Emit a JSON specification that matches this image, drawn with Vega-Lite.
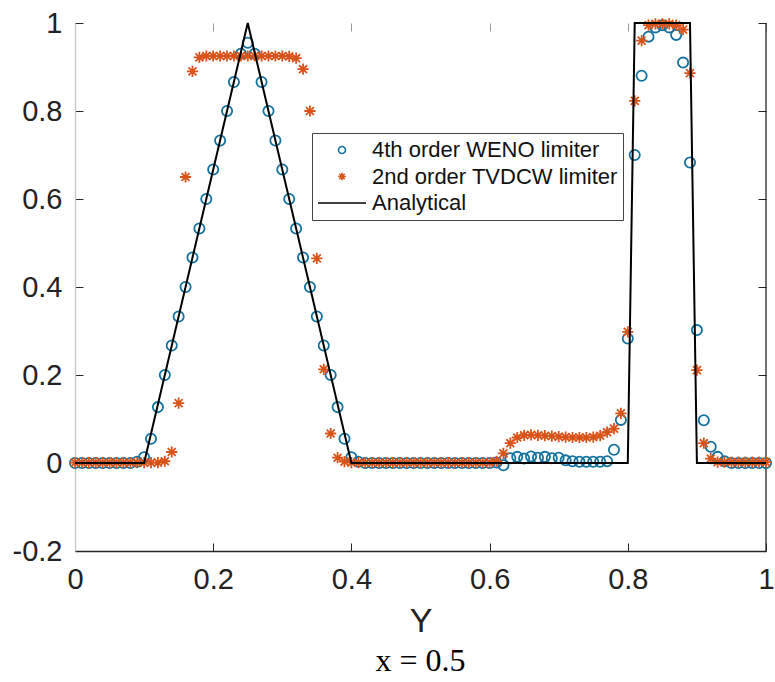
{
  "$schema": "https://vega.github.io/schema/vega-lite/v6.json",
  "width": 691,
  "height": 528,
  "autosize": "none",
  "padding": {"left": 75, "top": 23, "right": 9, "bottom": 131},
  "background": "white",
  "title": {"text": "x = 0.5", "orient": "bottom", "font": "Liberation Serif", "fontSize": 32, "fontWeight": "normal", "color": "#000", "offset": 8, "anchor": "middle"},
  "config": {
    "view": {"stroke": null},
    "axis": {"labelFont": "Liberation Sans", "labelFontSize": 29, "labelColor": "#222", "titleFont": "Liberation Sans", "titleFontWeight": "normal", "titleColor": "#222", "grid": false, "tickColor": "#262626", "tickWidth": 1, "domainColor": "#262626", "domainWidth": 1.3},
    "legend": {"labelFont": "Liberation Sans", "labelFontSize": 22, "labelColor": "#111", "strokeColor": "#444", "fillColor": "white", "padding": 5, "symbolSize": 2304, "clipHeight": 24, "rowPadding": 2.5, "labelOffset": 5, "symbolStrokeWidth": 1.6, "labelLimit": 400}
  },
  "resolve": {"axis": {"x": "independent", "y": "independent"}},
  "datasets": {
    "frame": [{"x": 1}],
    "analytic": [
      {"x": 0, "y": 0, "s": "Analytical"},
      {"x": 0.1, "y": 0, "s": "Analytical"},
      {"x": 0.25, "y": 1, "s": "Analytical"},
      {"x": 0.4, "y": 0, "s": "Analytical"},
      {"x": 0.8, "y": 0, "s": "Analytical"},
      {"x": 0.81, "y": 1, "s": "Analytical"},
      {"x": 0.89, "y": 1, "s": "Analytical"},
      {"x": 0.9, "y": 0, "s": "Analytical"},
      {"x": 1, "y": 0, "s": "Analytical"}
    ],
    "pts": [
      {"x": 0.00, "y": 0, "s": "4th order WENO limiter"},
      {"x": 0.01, "y": 0, "s": "4th order WENO limiter"},
      {"x": 0.02, "y": 0, "s": "4th order WENO limiter"},
      {"x": 0.03, "y": 0, "s": "4th order WENO limiter"},
      {"x": 0.04, "y": 0, "s": "4th order WENO limiter"},
      {"x": 0.05, "y": 0, "s": "4th order WENO limiter"},
      {"x": 0.06, "y": 0, "s": "4th order WENO limiter"},
      {"x": 0.07, "y": 0, "s": "4th order WENO limiter"},
      {"x": 0.08, "y": 0, "s": "4th order WENO limiter"},
      {"x": 0.09, "y": 0.003, "s": "4th order WENO limiter"},
      {"x": 0.10, "y": 0.013, "s": "4th order WENO limiter"},
      {"x": 0.11, "y": 0.055, "s": "4th order WENO limiter"},
      {"x": 0.12, "y": 0.127, "s": "4th order WENO limiter"},
      {"x": 0.13, "y": 0.2, "s": "4th order WENO limiter"},
      {"x": 0.14, "y": 0.267, "s": "4th order WENO limiter"},
      {"x": 0.15, "y": 0.333, "s": "4th order WENO limiter"},
      {"x": 0.16, "y": 0.4, "s": "4th order WENO limiter"},
      {"x": 0.17, "y": 0.467, "s": "4th order WENO limiter"},
      {"x": 0.18, "y": 0.533, "s": "4th order WENO limiter"},
      {"x": 0.19, "y": 0.6, "s": "4th order WENO limiter"},
      {"x": 0.20, "y": 0.667, "s": "4th order WENO limiter"},
      {"x": 0.21, "y": 0.733, "s": "4th order WENO limiter"},
      {"x": 0.22, "y": 0.8, "s": "4th order WENO limiter"},
      {"x": 0.23, "y": 0.866, "s": "4th order WENO limiter"},
      {"x": 0.24, "y": 0.93, "s": "4th order WENO limiter"},
      {"x": 0.25, "y": 0.955, "s": "4th order WENO limiter"},
      {"x": 0.26, "y": 0.93, "s": "4th order WENO limiter"},
      {"x": 0.27, "y": 0.866, "s": "4th order WENO limiter"},
      {"x": 0.28, "y": 0.8, "s": "4th order WENO limiter"},
      {"x": 0.29, "y": 0.733, "s": "4th order WENO limiter"},
      {"x": 0.30, "y": 0.667, "s": "4th order WENO limiter"},
      {"x": 0.31, "y": 0.6, "s": "4th order WENO limiter"},
      {"x": 0.32, "y": 0.533, "s": "4th order WENO limiter"},
      {"x": 0.33, "y": 0.467, "s": "4th order WENO limiter"},
      {"x": 0.34, "y": 0.4, "s": "4th order WENO limiter"},
      {"x": 0.35, "y": 0.333, "s": "4th order WENO limiter"},
      {"x": 0.36, "y": 0.267, "s": "4th order WENO limiter"},
      {"x": 0.37, "y": 0.2, "s": "4th order WENO limiter"},
      {"x": 0.38, "y": 0.127, "s": "4th order WENO limiter"},
      {"x": 0.39, "y": 0.055, "s": "4th order WENO limiter"},
      {"x": 0.40, "y": 0.013, "s": "4th order WENO limiter"},
      {"x": 0.41, "y": 0.003, "s": "4th order WENO limiter"},
      {"x": 0.42, "y": 0, "s": "4th order WENO limiter"},
      {"x": 0.43, "y": 0, "s": "4th order WENO limiter"},
      {"x": 0.44, "y": 0, "s": "4th order WENO limiter"},
      {"x": 0.45, "y": 0, "s": "4th order WENO limiter"},
      {"x": 0.46, "y": 0, "s": "4th order WENO limiter"},
      {"x": 0.47, "y": 0, "s": "4th order WENO limiter"},
      {"x": 0.48, "y": 0, "s": "4th order WENO limiter"},
      {"x": 0.49, "y": 0, "s": "4th order WENO limiter"},
      {"x": 0.50, "y": 0, "s": "4th order WENO limiter"},
      {"x": 0.51, "y": 0, "s": "4th order WENO limiter"},
      {"x": 0.52, "y": 0, "s": "4th order WENO limiter"},
      {"x": 0.53, "y": 0, "s": "4th order WENO limiter"},
      {"x": 0.54, "y": 0, "s": "4th order WENO limiter"},
      {"x": 0.55, "y": 0, "s": "4th order WENO limiter"},
      {"x": 0.56, "y": 0, "s": "4th order WENO limiter"},
      {"x": 0.57, "y": 0, "s": "4th order WENO limiter"},
      {"x": 0.58, "y": 0, "s": "4th order WENO limiter"},
      {"x": 0.59, "y": 0, "s": "4th order WENO limiter"},
      {"x": 0.60, "y": 0, "s": "4th order WENO limiter"},
      {"x": 0.61, "y": 0.001, "s": "4th order WENO limiter"},
      {"x": 0.62, "y": -0.005, "s": "4th order WENO limiter"},
      {"x": 0.63, "y": 0.011, "s": "4th order WENO limiter"},
      {"x": 0.64, "y": 0.014, "s": "4th order WENO limiter"},
      {"x": 0.65, "y": 0.01, "s": "4th order WENO limiter"},
      {"x": 0.66, "y": 0.015, "s": "4th order WENO limiter"},
      {"x": 0.67, "y": 0.012, "s": "4th order WENO limiter"},
      {"x": 0.68, "y": 0.014, "s": "4th order WENO limiter"},
      {"x": 0.69, "y": 0.011, "s": "4th order WENO limiter"},
      {"x": 0.70, "y": 0.012, "s": "4th order WENO limiter"},
      {"x": 0.71, "y": 0.006, "s": "4th order WENO limiter"},
      {"x": 0.72, "y": 0.004, "s": "4th order WENO limiter"},
      {"x": 0.73, "y": 0.003, "s": "4th order WENO limiter"},
      {"x": 0.74, "y": 0.003, "s": "4th order WENO limiter"},
      {"x": 0.75, "y": 0.003, "s": "4th order WENO limiter"},
      {"x": 0.76, "y": 0.003, "s": "4th order WENO limiter"},
      {"x": 0.77, "y": 0.004, "s": "4th order WENO limiter"},
      {"x": 0.78, "y": 0.03, "s": "4th order WENO limiter"},
      {"x": 0.79, "y": 0.098, "s": "4th order WENO limiter"},
      {"x": 0.80, "y": 0.283, "s": "4th order WENO limiter"},
      {"x": 0.81, "y": 0.7, "s": "4th order WENO limiter"},
      {"x": 0.82, "y": 0.88, "s": "4th order WENO limiter"},
      {"x": 0.83, "y": 0.969, "s": "4th order WENO limiter"},
      {"x": 0.84, "y": 0.99, "s": "4th order WENO limiter"},
      {"x": 0.85, "y": 0.995, "s": "4th order WENO limiter"},
      {"x": 0.86, "y": 0.99, "s": "4th order WENO limiter"},
      {"x": 0.87, "y": 0.973, "s": "4th order WENO limiter"},
      {"x": 0.88, "y": 0.91, "s": "4th order WENO limiter"},
      {"x": 0.89, "y": 0.683, "s": "4th order WENO limiter"},
      {"x": 0.90, "y": 0.302, "s": "4th order WENO limiter"},
      {"x": 0.91, "y": 0.097, "s": "4th order WENO limiter"},
      {"x": 0.92, "y": 0.037, "s": "4th order WENO limiter"},
      {"x": 0.93, "y": 0.014, "s": "4th order WENO limiter"},
      {"x": 0.94, "y": 0.004, "s": "4th order WENO limiter"},
      {"x": 0.95, "y": 0, "s": "4th order WENO limiter"},
      {"x": 0.96, "y": 0, "s": "4th order WENO limiter"},
      {"x": 0.97, "y": 0, "s": "4th order WENO limiter"},
      {"x": 0.98, "y": 0, "s": "4th order WENO limiter"},
      {"x": 0.99, "y": 0, "s": "4th order WENO limiter"},
      {"x": 1.00, "y": 0, "s": "4th order WENO limiter"},
      {"x": 0.00, "y": 0.001, "s": "2nd order TVDCW limiter"},
      {"x": 0.01, "y": 0.001, "s": "2nd order TVDCW limiter"},
      {"x": 0.02, "y": 0.001, "s": "2nd order TVDCW limiter"},
      {"x": 0.03, "y": 0.001, "s": "2nd order TVDCW limiter"},
      {"x": 0.04, "y": 0.001, "s": "2nd order TVDCW limiter"},
      {"x": 0.05, "y": 0.001, "s": "2nd order TVDCW limiter"},
      {"x": 0.06, "y": 0.001, "s": "2nd order TVDCW limiter"},
      {"x": 0.07, "y": 0.001, "s": "2nd order TVDCW limiter"},
      {"x": 0.08, "y": 0.001, "s": "2nd order TVDCW limiter"},
      {"x": 0.09, "y": 0.001, "s": "2nd order TVDCW limiter"},
      {"x": 0.10, "y": 0.001, "s": "2nd order TVDCW limiter"},
      {"x": 0.11, "y": 0.001, "s": "2nd order TVDCW limiter"},
      {"x": 0.12, "y": 0.001, "s": "2nd order TVDCW limiter"},
      {"x": 0.13, "y": 0.004, "s": "2nd order TVDCW limiter"},
      {"x": 0.14, "y": 0.025, "s": "2nd order TVDCW limiter"},
      {"x": 0.15, "y": 0.136, "s": "2nd order TVDCW limiter"},
      {"x": 0.16, "y": 0.65, "s": "2nd order TVDCW limiter"},
      {"x": 0.17, "y": 0.89, "s": "2nd order TVDCW limiter"},
      {"x": 0.18, "y": 0.922, "s": "2nd order TVDCW limiter"},
      {"x": 0.19, "y": 0.925, "s": "2nd order TVDCW limiter"},
      {"x": 0.20, "y": 0.925, "s": "2nd order TVDCW limiter"},
      {"x": 0.21, "y": 0.925, "s": "2nd order TVDCW limiter"},
      {"x": 0.22, "y": 0.925, "s": "2nd order TVDCW limiter"},
      {"x": 0.23, "y": 0.925, "s": "2nd order TVDCW limiter"},
      {"x": 0.24, "y": 0.925, "s": "2nd order TVDCW limiter"},
      {"x": 0.25, "y": 0.925, "s": "2nd order TVDCW limiter"},
      {"x": 0.26, "y": 0.925, "s": "2nd order TVDCW limiter"},
      {"x": 0.27, "y": 0.925, "s": "2nd order TVDCW limiter"},
      {"x": 0.28, "y": 0.925, "s": "2nd order TVDCW limiter"},
      {"x": 0.29, "y": 0.925, "s": "2nd order TVDCW limiter"},
      {"x": 0.30, "y": 0.925, "s": "2nd order TVDCW limiter"},
      {"x": 0.31, "y": 0.924, "s": "2nd order TVDCW limiter"},
      {"x": 0.32, "y": 0.92, "s": "2nd order TVDCW limiter"},
      {"x": 0.33, "y": 0.895, "s": "2nd order TVDCW limiter"},
      {"x": 0.34, "y": 0.8, "s": "2nd order TVDCW limiter"},
      {"x": 0.35, "y": 0.465, "s": "2nd order TVDCW limiter"},
      {"x": 0.36, "y": 0.213, "s": "2nd order TVDCW limiter"},
      {"x": 0.37, "y": 0.067, "s": "2nd order TVDCW limiter"},
      {"x": 0.38, "y": 0.012, "s": "2nd order TVDCW limiter"},
      {"x": 0.39, "y": 0.003, "s": "2nd order TVDCW limiter"},
      {"x": 0.40, "y": 0.001, "s": "2nd order TVDCW limiter"},
      {"x": 0.41, "y": 0.001, "s": "2nd order TVDCW limiter"},
      {"x": 0.42, "y": 0.001, "s": "2nd order TVDCW limiter"},
      {"x": 0.43, "y": 0.001, "s": "2nd order TVDCW limiter"},
      {"x": 0.44, "y": 0.001, "s": "2nd order TVDCW limiter"},
      {"x": 0.45, "y": 0.001, "s": "2nd order TVDCW limiter"},
      {"x": 0.46, "y": 0.001, "s": "2nd order TVDCW limiter"},
      {"x": 0.47, "y": 0.001, "s": "2nd order TVDCW limiter"},
      {"x": 0.48, "y": 0.001, "s": "2nd order TVDCW limiter"},
      {"x": 0.49, "y": 0.001, "s": "2nd order TVDCW limiter"},
      {"x": 0.50, "y": 0.001, "s": "2nd order TVDCW limiter"},
      {"x": 0.51, "y": 0.001, "s": "2nd order TVDCW limiter"},
      {"x": 0.52, "y": 0.001, "s": "2nd order TVDCW limiter"},
      {"x": 0.53, "y": 0.001, "s": "2nd order TVDCW limiter"},
      {"x": 0.54, "y": 0.001, "s": "2nd order TVDCW limiter"},
      {"x": 0.55, "y": 0.001, "s": "2nd order TVDCW limiter"},
      {"x": 0.56, "y": 0.001, "s": "2nd order TVDCW limiter"},
      {"x": 0.57, "y": 0.001, "s": "2nd order TVDCW limiter"},
      {"x": 0.58, "y": 0.001, "s": "2nd order TVDCW limiter"},
      {"x": 0.59, "y": 0.001, "s": "2nd order TVDCW limiter"},
      {"x": 0.60, "y": 0.001, "s": "2nd order TVDCW limiter"},
      {"x": 0.61, "y": 0.004, "s": "2nd order TVDCW limiter"},
      {"x": 0.62, "y": 0.022, "s": "2nd order TVDCW limiter"},
      {"x": 0.63, "y": 0.045, "s": "2nd order TVDCW limiter"},
      {"x": 0.64, "y": 0.058, "s": "2nd order TVDCW limiter"},
      {"x": 0.65, "y": 0.063, "s": "2nd order TVDCW limiter"},
      {"x": 0.66, "y": 0.064, "s": "2nd order TVDCW limiter"},
      {"x": 0.67, "y": 0.063, "s": "2nd order TVDCW limiter"},
      {"x": 0.68, "y": 0.062, "s": "2nd order TVDCW limiter"},
      {"x": 0.69, "y": 0.061, "s": "2nd order TVDCW limiter"},
      {"x": 0.70, "y": 0.06, "s": "2nd order TVDCW limiter"},
      {"x": 0.71, "y": 0.059, "s": "2nd order TVDCW limiter"},
      {"x": 0.72, "y": 0.058, "s": "2nd order TVDCW limiter"},
      {"x": 0.73, "y": 0.058, "s": "2nd order TVDCW limiter"},
      {"x": 0.74, "y": 0.058, "s": "2nd order TVDCW limiter"},
      {"x": 0.75, "y": 0.059, "s": "2nd order TVDCW limiter"},
      {"x": 0.76, "y": 0.062, "s": "2nd order TVDCW limiter"},
      {"x": 0.77, "y": 0.07, "s": "2nd order TVDCW limiter"},
      {"x": 0.78, "y": 0.078, "s": "2nd order TVDCW limiter"},
      {"x": 0.79, "y": 0.113, "s": "2nd order TVDCW limiter"},
      {"x": 0.80, "y": 0.298, "s": "2nd order TVDCW limiter"},
      {"x": 0.81, "y": 0.823, "s": "2nd order TVDCW limiter"},
      {"x": 0.82, "y": 0.96, "s": "2nd order TVDCW limiter"},
      {"x": 0.83, "y": 0.995, "s": "2nd order TVDCW limiter"},
      {"x": 0.84, "y": 0.998, "s": "2nd order TVDCW limiter"},
      {"x": 0.85, "y": 0.998, "s": "2nd order TVDCW limiter"},
      {"x": 0.86, "y": 0.998, "s": "2nd order TVDCW limiter"},
      {"x": 0.87, "y": 0.995, "s": "2nd order TVDCW limiter"},
      {"x": 0.88, "y": 0.985, "s": "2nd order TVDCW limiter"},
      {"x": 0.89, "y": 0.886, "s": "2nd order TVDCW limiter"},
      {"x": 0.90, "y": 0.211, "s": "2nd order TVDCW limiter"},
      {"x": 0.91, "y": 0.045, "s": "2nd order TVDCW limiter"},
      {"x": 0.92, "y": 0.01, "s": "2nd order TVDCW limiter"},
      {"x": 0.93, "y": 0.002, "s": "2nd order TVDCW limiter"},
      {"x": 0.94, "y": 0.002, "s": "2nd order TVDCW limiter"},
      {"x": 0.95, "y": 0.002, "s": "2nd order TVDCW limiter"},
      {"x": 0.96, "y": 0.002, "s": "2nd order TVDCW limiter"},
      {"x": 0.97, "y": 0.002, "s": "2nd order TVDCW limiter"},
      {"x": 0.98, "y": 0.002, "s": "2nd order TVDCW limiter"},
      {"x": 0.99, "y": 0.002, "s": "2nd order TVDCW limiter"},
      {"x": 1.00, "y": 0.002, "s": "2nd order TVDCW limiter"}
    ]
  },
  "layer": [
    {
      "data": {"name": "frame"},
      "mark": {"type": "rule", "color": "#262626", "strokeWidth": 1.3},
      "encoding": {
        "x": {"field": "x", "type": "quantitative", "scale": {"domain": [0, 1], "nice": false},
          "axis": {"orient": "top", "values": [0, 0.2, 0.4, 0.6, 0.8, 1], "labels": false, "domain": false, "tickSize": -8, "tickColor": "#999", "title": null}}
      }
    },
    {
      "data": {"name": "pts"},
      "mark": {"type": "point", "filled": false, "strokeWidth": 1.8, "size": 4900, "opacity": 1},
      "encoding": {
        "x": {"field": "x", "type": "quantitative", "scale": {"domain": [0, 1], "nice": false},
          "axis": {"orient": "bottom", "values": [0, 0.2, 0.4, 0.6, 0.8, 1], "labelExpr": "format(datum.value, '~g')", "tickSize": -8, "labelPadding": 22, "title": "Y", "titleFontSize": 34, "titlePadding": 10, "labelFlush": false}},
        "y": {"field": "y", "type": "quantitative", "scale": {"domain": [-0.2, 1], "nice": false, "zero": false},
          "axis": {"orient": "left", "values": [-0.2, 0, 0.2, 0.4, 0.6, 0.8, 1], "labelExpr": "datum.value < 0 ? '-' + format(-datum.value, '~g') : format(datum.value, '~g')", "tickSize": -8, "labelPadding": 21, "title": null, "domainColor": "#c8c8c8", "labelFlush": false}},
        "color": {"field": "s", "type": "nominal", "sort": null,
          "scale": {"domain": ["4th order WENO limiter", "2nd order TVDCW limiter", "Analytical"], "range": ["#13729f", "#D95319", "#000000"]},
          "legend": {"orient": "none", "legendX": 237, "legendY": 110, "title": null}},
        "shape": {"field": "s", "type": "nominal", "sort": null,
          "scale": {"domain": ["4th order WENO limiter", "2nd order TVDCW limiter", "Analytical"],
            "range": ["M0.146,0A0.146,0.146,0,1,1,-0.146,0A0.146,0.146,0,1,1,0.146,0Z", "M0,-0.16L0,0.16M-0.16,0L0.16,0M-0.113,-0.113L0.113,0.113M-0.113,0.113L0.113,-0.113", "M-1,0L1,0"]},
          "legend": {"orient": "none", "legendX": 237, "legendY": 110, "title": null}}
      }
    },
    {
      "data": {"name": "analytic"},
      "mark": {"type": "line", "strokeWidth": 2},
      "encoding": {
        "x": {"field": "x", "type": "quantitative", "axis": null},
        "y": {"field": "y", "type": "quantitative",
          "axis": {"orient": "right", "values": [-0.2, 0, 0.2, 0.4, 0.6, 0.8, 1], "labels": false, "domain": false, "tickSize": -8, "title": null}},
        "color": {"field": "s", "type": "nominal", "sort": null,
          "legend": {"orient": "none", "legendX": 237, "legendY": 110, "title": null}}
      }
    }
  ]
}
